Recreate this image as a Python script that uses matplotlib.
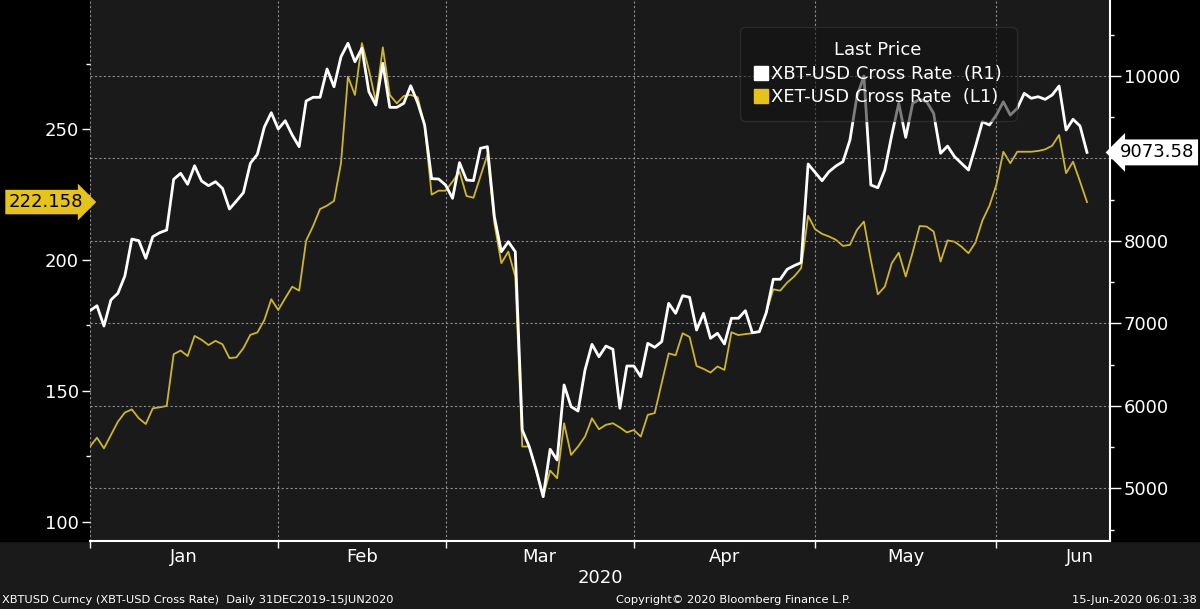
import numpy as np
import matplotlib
matplotlib.use("Agg")
import matplotlib.pyplot as plt
from matplotlib.lines import Line2D

plt.rcParams['font.family'] = ['DejaVu Sans']

# XBT-USD (right axis), one value per plotted observation
xbt = [7154, 7214, 6968, 7284, 7365, 7575, 8023, 8003, 7789, 8051,
       8100, 8132, 8747, 8820, 8687, 8912, 8727, 8670, 8718, 8638,
       8387, 8484, 8585, 8941, 9050, 9380, 9555, 9357, 9458, 9285,
       9143, 9697, 9742, 9742, 10085, 9870, 10234, 10397, 10173, 10336,
       9810, 9648, 10154, 9620, 9620, 9669, 9882, 9676, 9406, 8755,
       8751, 8678, 8517, 8949, 8739, 8731, 9123, 9143, 8294, 7869,
       7990, 7869, 5707, 5505, 5222, 4898, 5473, 5343, 6253, 5990,
       5937, 6435, 6746, 6596, 6725, 6686, 5970, 6483, 6483, 6354,
       6758, 6710, 6778, 7243, 7122, 7336, 7316, 6920, 7122, 6819,
       6880, 6750, 7062, 7062, 7154, 6887, 6899, 7130, 7535, 7535,
       7656, 7700, 7737, 8933, 8832, 8730, 8840, 8909, 8961, 9224,
       9750, 10000, 8678, 8645, 8860, 9284, 9669, 9256, 9669, 9717,
       9688, 9548, 9063, 9150, 9022, 8941, 8860, 9143, 9446, 9406,
       9527, 9688, 9527, 9608, 9790, 9730, 9749, 9717, 9770, 9879,
       9345, 9475, 9394, 9073.58]

# XET-USD (left axis)
xet = [128.7, 132.1, 128.0, 133.1, 138.2, 141.7, 142.9, 139.5, 137.3, 143.3,
       143.7, 144.2, 164.0, 165.4, 163.3, 171.0, 169.5, 167.5, 169.1, 167.8,
       162.5, 162.8, 166.3, 171.4, 172.3, 177.0, 185.0, 180.9, 185.4, 189.8,
       188.3, 207.4, 213.0, 219.5, 220.8, 222.6, 237.0, 270.1, 263.1, 282.9,
       272.7, 260.6, 281.3, 263.1, 259.9, 262.7, 263.1, 262.2, 251.3, 225.0,
       226.5, 226.5, 230.0, 233.8, 224.5, 223.8, 232.0, 240.2, 214.1, 198.8,
       203.2, 193.7, 128.7, 128.7, 119.1, 109.6, 119.5, 116.6, 137.6, 125.5,
       128.7, 132.5, 139.5, 135.3, 137.0, 137.6, 136.0, 134.1, 135.0, 132.5,
       140.8, 141.5, 153.0, 164.3, 163.6, 172.0, 170.6, 159.5, 158.4, 157.0,
       159.3, 158.0, 172.4, 171.3, 171.7, 172.0, 172.8, 180.0, 188.8, 188.3,
       191.4, 193.7, 196.9, 216.9, 211.8, 210.0, 209.0, 207.7, 205.4, 205.8,
       211.5, 214.7, 200.0, 186.9, 189.8, 198.8, 202.8, 193.7, 203.0, 213.0,
       212.8, 210.9, 199.4, 207.5, 207.0, 205.1, 202.6, 206.7, 215.1, 220.7,
       228.7, 241.4, 237.0, 241.4, 241.4, 241.4, 241.7, 242.3, 243.7, 247.8,
       233.2, 237.6, 230.0, 222.158]

months = ['Jan', 'Feb', 'Mar', 'Apr', 'May', 'Jun']
month_bounds = [0, 27, 51, 78, 104, 130, 154]   # observation index where each month starts

left_ticks = [100, 150, 200, 250]
left_minor = [125, 175, 225, 275]
right_ticks = [5000, 6000, 7000, 8000, 9000, 10000]
right_labels = ['5000', '6000', '7000', '8000', '', '10000']  # 9000 sits under the last-price tag
right_minor = [4500, 5500, 6500, 7500, 8500, 9500, 10500]

YELLOW = '#cdb52c'
GOLD = '#e6c31c'
BG = '#1a1a1a'

x = np.arange(len(xbt))

fig = plt.figure(figsize=(12, 6.09), dpi=100)
fig.patch.set_facecolor(BG)
# black side panels beside the plot
fig.add_artist(plt.Rectangle((0, 0.1117), 0.075, 0.8883, transform=fig.transFigure,
                             color='black', zorder=0))
fig.add_artist(plt.Rectangle((0.925, 0.1117), 0.075, 0.8883, transform=fig.transFigure,
                             color='black', zorder=0))

ax = fig.add_axes([0.075, 0.1117, 0.85, 0.8883])
ax.set_facecolor(BG)
ax2 = ax.twinx()

ax.plot(x, xet, color=YELLOW, lw=1.3, zorder=3)
ax2.plot(x, xbt, color='white', lw=2.0, zorder=3)

ax.set_xlim(0, 146.3)
ax.set_ylim(92.6, 299.4)
ax2.set_ylim(4361, 10922)

# x axis: boundaries as ticks, month names centred
ax.set_xticks(month_bounds[:-1])
ax.set_xticklabels([])
mids = [(a + b) / 2 for a, b in zip(month_bounds[:-1], month_bounds[1:])]
ax.set_xticks(mids, minor=True)
ax.set_xticklabels(months, minor=True)
ax.tick_params(axis='x', which='major', colors='white', length=5, width=1)
ax.tick_params(axis='x', which='minor', length=0, labelsize=13, labelcolor='white', pad=5)
ax.set_xlabel('2020', color='white', fontsize=13, labelpad=2)
ax.grid(axis='x', which='major', color='#8c8c8c', linestyle=(0, (2, 2)), lw=0.8)

# left axis
ax.set_yticks(left_ticks)
ax.set_yticks(left_minor, minor=True)
ax.tick_params(axis='y', which='major', colors='white', length=6, width=1,
               labelsize=13, pad=2)
ax.tick_params(axis='y', which='minor', colors='white', length=3, width=1)

# right axis
ax2.set_yticks(right_ticks)
ax2.set_yticklabels(right_labels)
ax2.set_yticks(right_minor, minor=True)
ax2.tick_params(axis='y', which='major', colors='white', length=8, width=1,
                labelsize=13, pad=2)
ax2.tick_params(axis='y', which='minor', colors='white', length=3, width=1)
ax2.grid(axis='y', which='major', color='#8c8c8c', linestyle=(0, (2, 2)), lw=0.8)

for a in (ax, ax2):
    a.spines['top'].set_visible(False)
    a.spines['left'].set_visible(False)
ax.spines['right'].set_visible(False)
ax.spines['bottom'].set_color('white')
ax.spines['bottom'].set_linewidth(1.5)
ax2.spines['bottom'].set_visible(False)
ax2.spines['right'].set_color('white')
ax2.spines['right'].set_linewidth(1.5)

# last value tags
ax2.annotate(f'{xbt[-1]:.2f}', xy=(1, xbt[-1]), xycoords=('axes fraction', 'data'),
             xytext=(7, 0), textcoords='offset points', ha='left', va='center',
             fontsize=13, color='black', annotation_clip=False, zorder=10,
             bbox=dict(boxstyle='larrow,pad=0.22', fc='white', ec='none'))
ax.annotate(f'{xet[-1]:.3f}', xy=(0, xet[-1]), xycoords=('axes fraction', 'data'),
            xytext=(-5, 0), textcoords='offset points', ha='right', va='center',
            fontsize=13, color='black', annotation_clip=False, zorder=10,
            bbox=dict(boxstyle='rarrow,pad=0.18', fc=GOLD, ec='none'))

handles = [Line2D([], [], marker='s', ls='none', color='white', markersize=10),
           Line2D([], [], marker='s', ls='none', color=GOLD, markersize=10)]
leg = ax2.legend(handles, ['XBT-USD Cross Rate  (R1)', 'XET-USD Cross Rate  (L1)'],
                 title='Last Price', loc='upper left', bbox_to_anchor=(0.637, 0.950),
                 borderaxespad=0, fontsize=13, title_fontsize=13, labelcolor='white',
                 frameon=True, facecolor='#121212', edgecolor='#3a3a3a', framealpha=0.55,
                 handletextpad=0.15, handlelength=0.8, borderpad=0.8,
                 labelspacing=0.3, fancybox=True)
leg.get_title().set_color('white')
leg.get_frame().set_boxstyle('round,pad=0,rounding_size=0.3')
leg.set_zorder(20)

fig.text(0.002, 0.015, 'XBTUSD Curncy (XBT-USD Cross Rate)  Daily 31DEC2019-15JUN2020',
         color='white', fontsize=8.2, ha='left', va='center')
fig.text(0.611, 0.015, 'Copyright\u00a9 2020 Bloomberg Finance L.P.',
         color='white', fontsize=8.2, ha='center', va='center')
fig.text(0.997, 0.015, '15-Jun-2020 06:01:38',
         color='white', fontsize=8.2, ha='right', va='center')

fig.savefig('out.png', dpi=100, facecolor=fig.get_facecolor())
